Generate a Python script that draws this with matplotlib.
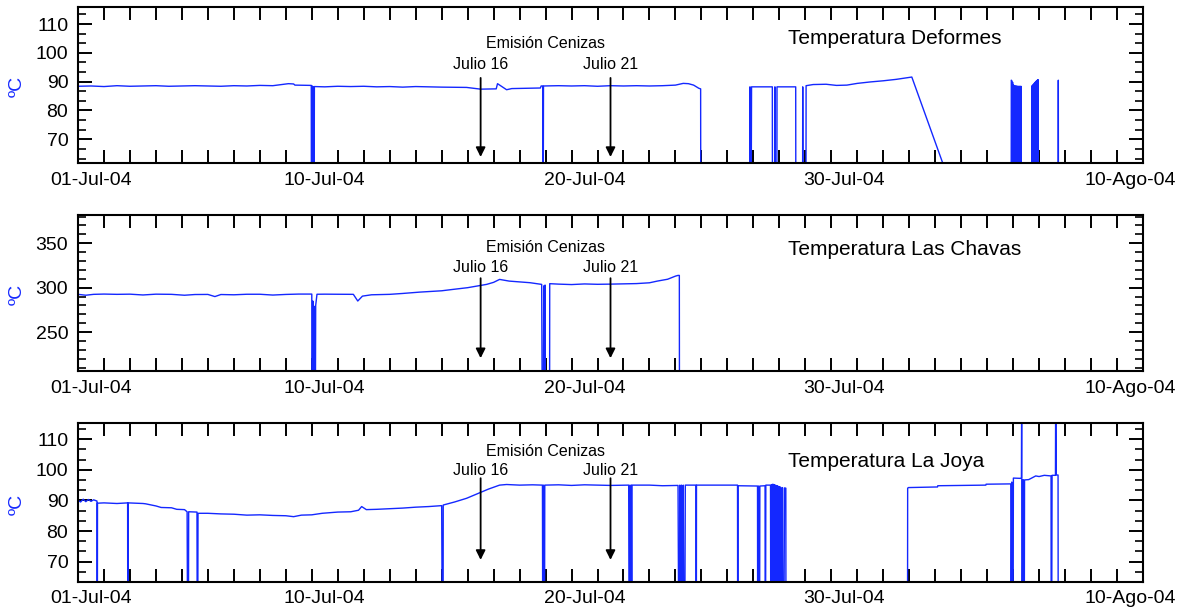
import numpy as np
import matplotlib
matplotlib.use("Agg")
import matplotlib.pyplot as plt
from matplotlib.ticker import MultipleLocator, FixedLocator, FixedFormatter

plt.rcParams['font.family'] = ['Liberation Sans', 'DejaVu Sans']

nan = np.nan

# time in days since 01-Jul-2004 00:00, 0 = sensor dropout (off scale)
deformes_t = [0, 0.5, 1, 1.5, 2, 2.5, 3, 3.5, 4, 4.5, 5, 5.5, 6, 6.5, 7, 7.5, 8.1, 8.3, 8.35, 8.98,
              8.99, 9.02, 9.03, 9.06, 9.08, 9.1, 9.5, 10, 10.5, 11, 11.5, 12, 12.5, 13, 13.5, 14, 14.96,
              15.5, 16.1, 16.15, 16.5, 16.7, 17.2, 17.8, 17.83, 17.89, 17.9, 17.92, 18.5, 19, 19.5, 20,
              20.5, 21, 21.5, 22, 22.5, 23, 23.3, 23.5, 23.7, 23.9, 23.97, 23.98, nan,
              25.86, 25.87, 25.9, 25.93, 26.73, 26.74, 26.82, 26.83, 26.85, 26.9, 26.91, 27.63, 27.64,
              27.89, 27.9, 27.92, 28.02, 28.03, 28.3, 28.8, 29.2, 29.6, 30.0, 30.5, 31.0, 31.5, 32.1, 33.3, nan,
              35.92, 35.93, 35.95, 35.96, 35.98, 36.0, 36.02, 36.04, 36.06, 36.08, 36.1, 36.12, 36.14, 36.16,
              36.18, 36.2, 36.22, 36.24, 36.26, 36.28, 36.3, 36.32, nan,
              36.72, 36.73, 36.75, 36.77, 36.79, 36.81, 36.83, 36.85, 36.87, 36.89, 36.91, 36.93, 36.95,
              36.96, 36.97, nan, 37.73, 37.74, 37.75]
deformes_v = [88.4, 88.5, 88.3, 88.6, 88.4, 88.5, 88.6, 88.4, 88.5, 88.6, 88.5, 88.4, 88.6, 88.5, 88.7, 88.6, 89.3, 89.2, 88.8, 88.7,
              0, 88.5, 0, 88.3, 0, 88.3, 88.2, 88.4, 88.3, 88.4, 88.2, 88.3, 88.1, 88.3, 88.2, 88.1, 88.0,
              87.4, 87.5, 89.3, 87.2, 87.6, 87.7, 87.8, 88.5, 88.5, 0, 88.5, 88.6, 88.5, 88.6, 88.4,
              88.6, 88.5, 88.6, 88.5, 88.6, 88.8, 89.4, 89.3, 88.8, 87.7, 87.5, 0, nan,
              0, 88.2, 0, 88.2, 88.2, 0, 0, 88.2, 0, 0, 88.2, 88.2, 0,
              0, 88.2, 0, 0, 88.6, 89.0, 89.1, 88.7, 88.8, 89.4, 89.9, 90.3, 90.8, 91.6, 61.5, nan,
              0, 90.5, 90.3, 0, 89.8, 0, 88.8, 0, 88.6, 0, 88.5, 0, 88.5, 0,
              88.4, 0, 88.4, 0, 88.4, 0, 88.4, 0, nan,
              0, 88.6, 0, 89.0, 0, 89.4, 0, 89.8, 0, 90.2, 0, 90.5, 0,
              90.7, 0, nan, 0, 90.5, 0]

chavas_t = [0, 0.3, 0.6, 1, 1.5, 2, 2.5, 3, 3.6, 4.1, 4.5, 5.0, 5.27, 5.5, 6, 6.5, 7, 7.5, 8, 8.5, 9.0,
            9.01, 9.04, 9.06, 9.1, 9.12, 9.15, 9.2, 9.5, 10, 10.6, 10.77, 10.95, 11.3, 12, 12.5, 13.15,
            14.0, 14.42, 15, 15.73, 16.0, 16.23, 16.6, 17.0, 17.4, 17.85, 17.9, 17.93, 17.95, 17.98,
            18.0, 18.15, 18.16, 18.5, 19, 19.5, 20, 20.5, 21, 21.5, 22, 22.3, 22.7, 23.0, 23.1, 23.15, 23.16]
chavas_v = [292.5, 291.5, 292.5, 292.8, 292.5, 292.7, 291.8, 292.7, 292.5, 291.5, 292.3, 292.4, 290, 292.3, 292, 292.6, 292.6, 291.7, 292.4, 292.8, 292.8,
            0, 285, 0, 279, 0, 280, 292.6, 292.7, 292.6, 292.5, 285, 290.5, 292, 292.5, 293.5, 295,
            296.5, 298, 300, 303.7, 306, 309.3, 307.4, 306.5, 305.6, 303.7, 0, 302, 0, 303,
            0, 0, 304.5, 304, 303.5, 304.2, 303.8, 304, 304.3, 304.6, 305.5, 307.4, 309.5, 313, 313.8, 313.8, 0]

joya_t = [0, 0.1, 0.2, 0.3, 0.4, 0.5, 0.6, 0.73, 0.74, 0.75, 1.0, 1.5, 1.91, 1.92, 1.93, 2.5, 2.6, 3.0,
          3.2, 3.6, 3.8, 4.1, 4.2, 4.24, 4.26, 4.58, 4.6, 4.62, 5, 5.5, 6, 6.5, 7, 7.5, 8, 8.3, 8.6, 9.0,
          9.4, 10, 10.5, 10.8, 10.92, 11.1, 11.5, 12, 12.5, 13, 13.5, 14.0, 14.05, 14.06, 14.5, 14.96,
          15.46, 15.8, 16.23, 16.5, 17, 17.5, 17.88, 17.9, 17.92, 17.95, 17.97, 18.5, 19, 19.5, 20, 20.5,
          21.2, 21.23, 21.25, 21.28, 21.3, 21.32, 21.33, 22, 22.5, 23.1, 23.15, 23.17, 23.2, 23.23, 23.27,
          23.3, 23.34, 23.38, 23.79, 23.8, 23.81, 24.5, 25.39, 25.4, 25.41, 26.16, 26.17, 26.2, 26.23,
          26.25, 26.45, 26.46, 26.48, 26.66, 26.68, 26.69, 26.705, 26.72, 26.735, 26.75, 26.765, 26.78, 26.795,
          26.81, 26.825, 26.84, 26.855, 26.87, 26.885, 26.9, 26.915, 26.93, 26.945, 26.96, 26.975, 26.99, 27.005,
          27.02, 27.035, 27.05, 27.09, 27.12, 27.15, 27.2, 27.25, 27.26, nan,
          31.93, 31.94, 31.97, 33.09, 33.1, 34.95, 34.96, 35.91, 35.92, 35.95, 35.99, 36.01, 36.3, 36.32,
          36.33, 36.34, 36.38, 36.42, 36.44, 36.6, 36.87, 37.0, 37.2, 37.46, 37.47, 37.5, 37.63, 37.64,
          37.66, 37.73, 37.74]
joya_v = [90, 89.5, 90.4, 89.6, 90.3, 89.7, 90.2, 89.8, 0, 89.1, 89.2, 89.0, 89.2, 0, 89.2, 89.0, 88.9, 88.2,
          87.7, 87.6, 87.1, 87.0, 86.3, 0, 86.3, 86.2, 0, 85.8, 85.8, 85.6, 85.5, 85.2, 85.3, 85.1, 85.0, 84.7, 85.2, 85.3,
          85.8, 86.2, 86.3, 86.8, 88.0, 87.0, 87.1, 87.3, 87.5, 87.8, 88.0, 88.3, 0, 88.5, 89.5, 90.7,
          92.5, 93.7, 95.0, 95.2, 95.0, 95.1, 95.0, 0, 95.0, 0, 95.0, 95.1, 94.9, 95.1, 95.0, 94.9,
          95.0, 0, 95.0, 0, 95.0, 0, 95.0, 95.0, 94.8, 94.9, 0, 95.0, 0, 95.0, 0,
          95.0, 0, 95.0, 95.0, 0, 95.0, 95.0, 95.0, 0, 94.8, 94.7, 0, 94.7, 0,
          94.7, 94.8, 0, 95.0, 95.0, 0, 95.0, 0, 95.2, 0, 95.3, 0, 95.2, 0,
          95.1, 0, 95.0, 0, 94.9, 0, 94.8, 0, 94.7, 0, 94.6, 0, 94.5, 0,
          94.4, 0, 94.3, 0, 94.2, 0, 94.1, 94.0, 0, nan,
          0, 94.0, 94.2, 94.4, 94.8, 95.0, 95.3, 95.4, 0, 96.0, 0, 97.3, 97.2, 97.3,
          130, 0, 96.8, 0, 96.7, 96.8, 98.0, 97.8, 98.2, 98.0, 0, 98.2, 98.2, 130,
          98.3, 98.3, 0]

panel_titles = ["Temperatura Deformes", "Temperatura Las Chavas", "Temperatura La Joya"]
day_labels = ["01-Jul-04", "10-Jul-04", "20-Jul-04", "30-Jul-04", "10-Ago-04"]
label_days = [0.5, 9.5, 19.5, 29.5, 40.5]   # labels sit at noon of the day
event_days = [15.5, 20.5]
event_labels = ["Julio 16", "Julio 21"]

series = [(deformes_t, deformes_v), (chavas_t, chavas_v), (joya_t, joya_v)]
ylims = [(61.7, 115.8), (205.7, 381.8), (63.5, 115.2)]
ymajor = [10, 50, 10]
yminor = [10 / 3, 10, 10 / 3]
# axes rects in figure fraction
rects = [(0.066, 0.732, 0.901, 0.256), (0.066, 0.390, 0.901, 0.257), (0.066, 0.045, 0.901, 0.260)]
# y positions (axes fraction): header text, date text, arrow top, arrow tip, panel title
ann_y = [(0.765, 0.636, 0.547, 0.04, 0.797),
         (0.794, 0.666, 0.596, 0.085, 0.777),
         (0.821, 0.700, 0.653, 0.137, 0.758)]

line_color = '#1428ff'

fig = plt.figure(figsize=(11.82, 6.09), dpi=100)

for i in range(3):
    ax = fig.add_axes(rects[i])
    t, v = series[i]
    ax.plot(t, v, color=line_color, lw=1.0)
    ax.set_xlim(0, 41)
    ax.set_ylim(*ylims[i])

    for sp in ax.spines.values():
        sp.set_linewidth(1.5)

    ax.xaxis.set_major_locator(MultipleLocator(1))
    ax.xaxis.set_major_formatter(FixedFormatter([]))
    ax.xaxis.set_minor_locator(FixedLocator(label_days))
    ax.xaxis.set_minor_formatter(FixedFormatter(day_labels))
    ax.tick_params(axis='x', which='major', direction='in', length=9.5, width=1.4,
                   top=True, bottom=True, labelbottom=False)
    ax.tick_params(axis='x', which='minor', length=0, pad=6, labelsize=14)

    ax.yaxis.set_major_locator(MultipleLocator(ymajor[i]))
    ax.yaxis.set_minor_locator(MultipleLocator(yminor[i]))
    ax.tick_params(axis='y', which='major', direction='in', length=10, width=1.4,
                   left=True, right=True, labelsize=14, pad=7)
    ax.tick_params(axis='y', which='minor', direction='in', length=6, width=1.2,
                   left=True, right=True)

    ax.text(-0.057, 0.49, "ºC", transform=ax.transAxes, rotation=90, color=line_color,
            fontsize=14, ha='center', va='center')

    hy, ty, ay0, ay1, tit_y = ann_y[i]
    tr = ax.get_xaxis_transform()
    ax.text(18.0, hy, "Emisión Cenizas", transform=tr, ha='center', va='center', fontsize=11.5)
    for d, lab in zip(event_days, event_labels):
        ax.text(d, ty, lab, transform=tr, ha='center', va='center', fontsize=11.5)
        ax.annotate('', xy=(d, ay1), xycoords=tr, xytext=(d, ay0), textcoords=tr,
                    arrowprops=dict(arrowstyle='-|>', color='black', lw=1.3,
                                    mutation_scale=14, shrinkA=0, shrinkB=0))
    ax.text(0.667, tit_y, panel_titles[i], transform=ax.transAxes, ha='left', va='center',
            fontsize=15)

fig.savefig("out.png", dpi=100)
